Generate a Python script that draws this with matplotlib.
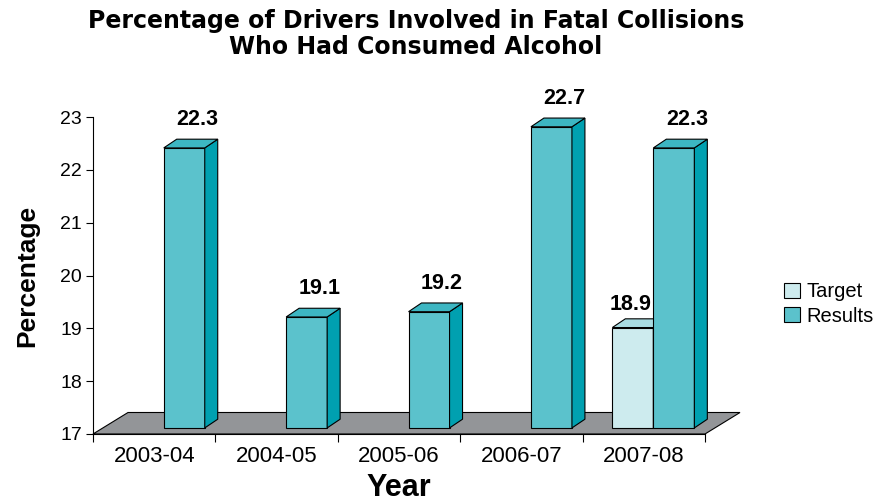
import matplotlib
matplotlib.use('Agg')
import matplotlib.pyplot as plt
from matplotlib.patches import Polygon, Patch

# data
years = ['2003-04', '2004-05', '2005-06', '2006-07', '2007-08']
results = [22.3, 19.1, 19.2, 22.7, 22.3]
target = [None, None, None, None, 18.9]
y_ticks = [17, 18, 19, 20, 21, 22, 23]

plt.rcParams['font.family'] = ['Liberation Sans', 'DejaVu Sans']

fig = plt.figure(figsize=(8.74, 5.04), dpi=100)
ax = fig.add_axes([93 / 874, 70 / 504, 612 / 874, 317 / 504])
ax.set_xlim(-0.5, 4.5)
ax.set_ylim(17, 23)

# pseudo 3d geometry (data units)
w = 0.335        # bar width
ddx, ddy = 0.106, 0.165   # bar depth
off = 0.115      # bar front lifted by depth position
fdx, fdy = 0.286, 0.407   # floor depth

floor = Polygon([(-0.5, 17), (4.5, 17), (4.5 + fdx, 17 + fdy), (-0.5 + fdx, 17 + fdy)],
                closed=True, facecolor='#939598', edgecolor='black', lw=0.8,
                clip_on=False, zorder=1)
ax.add_patch(floor)


def bar3d(left, v, front, side, top):
    ax.bar(left, v - 17, bottom=17 + off, width=w, align='edge', color=front,
           edgecolor='black', lw=0.8, zorder=3, clip_on=False)
    ax.add_patch(Polygon([(left + w, 17 + off), (left + w + ddx, 17 + off + ddy),
                          (left + w + ddx, v + off + ddy), (left + w, v + off)],
                         facecolor=side, edgecolor='black', lw=0.8, zorder=3, clip_on=False))
    ax.add_patch(Polygon([(left, v + off), (left + ddx, v + off + ddy),
                          (left + w + ddx, v + off + ddy), (left + w, v + off)],
                         facecolor=top, edgecolor='black', lw=0.8, zorder=3, clip_on=False))


for i in range(len(years)):
    if target[i] is not None:
        left = i + 0.078 - w
        bar3d(left, target[i], '#CDEBEE', '#A9DCE2', '#A9DCE2')
        ax.text(left + w / 2 - 0.02, target[i] + 0.56, f'{target[i]}', ha='center',
                va='center', fontsize=15.5, fontweight='bold', zorder=5)
    left = i + 0.078
    bar3d(left, results[i], '#5BC2CC', '#00A0B0', '#3DB6C2')
    ax.text(left + w / 2 + ddx, results[i] + 0.65, f'{results[i]}', ha='center',
            va='center', fontsize=15.5, fontweight='bold', zorder=5)

# axes styling
for s in ['top', 'right']:
    ax.spines[s].set_visible(False)
ax.spines['left'].set_linewidth(0.8)
ax.spines['bottom'].set_linewidth(0.8)
ax.set_yticks(y_ticks)
ax.set_yticklabels([str(t) for t in y_ticks], fontsize=14)
ax.tick_params(axis='y', direction='out', length=5, width=0.8, pad=3)
ax.set_xticks(range(len(years)))
ax.set_xticklabels(years, fontsize=16)
ax.set_xticks([i - 0.5 for i in range(len(years) + 1)], minor=True)
ax.tick_params(axis='x', which='major', length=0, pad=9)
ax.tick_params(axis='x', which='minor', direction='out', length=6, width=0.8)

fig.text(27 / 874, 1 - 276 / 504, 'Percentage', rotation=90, ha='center', va='center',
         fontsize=19, fontweight='bold')
fig.text(399 / 874, 1 - 488 / 504, 'Year', ha='center', va='center',
         fontsize=22, fontweight='bold')
fig.text(416 / 874, 1 - 34 / 504, 'Percentage of Drivers Involved in Fatal Collisions\nWho Had Consumed Alcohol',
         ha='center', va='center', fontsize=17, fontweight='bold', linespacing=1.12,
         family=['DejaVu Sans'])

handles = [Patch(facecolor='#CDEBEE', edgecolor='black', lw=0.8, label='Target'),
           Patch(facecolor='#5BC2CC', edgecolor='black', lw=0.8, label='Results')]
fig.legend(handles=handles, loc='center left', bbox_to_anchor=(784 / 874, 1 - 304 / 504),
           frameon=False, fontsize=14.5, handlelength=0.8, handleheight=0.8,
           handletextpad=0.3, labelspacing=0.25, borderaxespad=0, borderpad=0)

fig.savefig('out.png', dpi=100)
